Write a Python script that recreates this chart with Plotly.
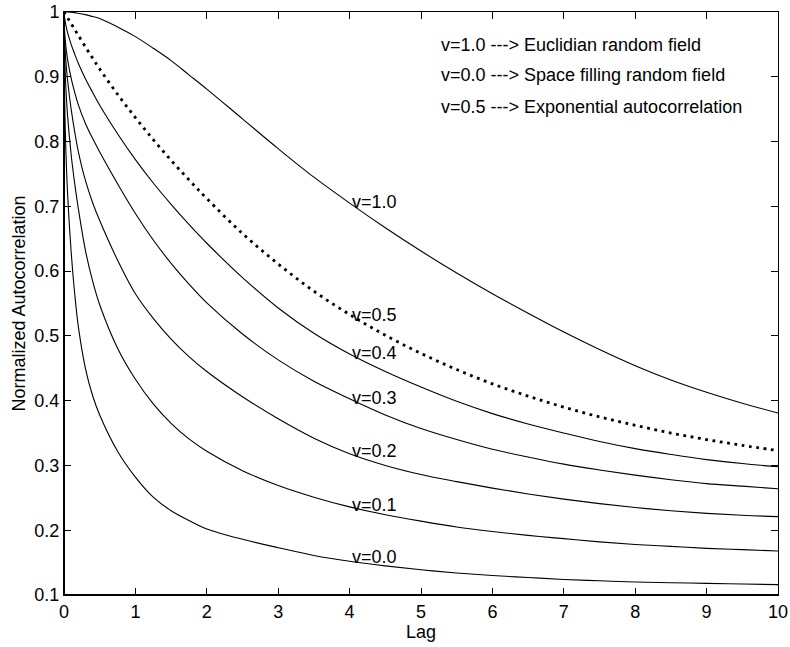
import plotly.graph_objects as go

lag = [0, 0.01, 0.025, 0.05, 0.1, 0.15, 0.2, 0.3, 0.4, 0.5, 0.75, 1, 1.25, 1.5,
       1.75, 2, 2.5, 3, 3.5, 4, 4.5, 5, 5.5, 6, 6.5, 7, 7.5, 8, 8.5, 9, 9.5, 10]

v10 = [1, 1, 1, 1, 0.9995, 0.999, 0.998, 0.996, 0.993, 0.99, 0.977, 0.962,
       0.944, 0.925, 0.903, 0.881, 0.835, 0.789, 0.745, 0.705, 0.667, 0.631,
       0.597, 0.565, 0.535, 0.506, 0.479, 0.454, 0.432, 0.413, 0.396, 0.381]
v05 = [1, 0.998, 0.996, 0.991, 0.982, 0.973, 0.964, 0.946, 0.929, 0.912,
       0.873, 0.837, 0.803, 0.771, 0.741, 0.712, 0.658, 0.611, 0.569, 0.533,
       0.501, 0.473, 0.448, 0.426, 0.407, 0.39, 0.375, 0.362, 0.35, 0.34,
       0.331, 0.323]
v04 = [1, 0.99, 0.98, 0.968, 0.95, 0.935, 0.921, 0.897, 0.876, 0.856, 0.812,
       0.772, 0.736, 0.703, 0.672, 0.643, 0.59, 0.543, 0.504, 0.472, 0.445,
       0.421, 0.399, 0.38, 0.364, 0.35, 0.337, 0.326, 0.317, 0.309, 0.303,
       0.298]
v03 = [1, 0.967, 0.948, 0.927, 0.898, 0.876, 0.857, 0.828, 0.805, 0.784,
       0.735, 0.689, 0.648, 0.612, 0.58, 0.551, 0.503, 0.463, 0.43, 0.403,
       0.378, 0.357, 0.34, 0.325, 0.313, 0.302, 0.293, 0.285, 0.278, 0.272,
       0.268, 0.264]
v02 = [1, 0.955, 0.925, 0.895, 0.85, 0.815, 0.785, 0.74, 0.706, 0.678, 0.617,
       0.565, 0.527, 0.495, 0.468, 0.445, 0.406, 0.372, 0.342, 0.318, 0.3,
       0.286, 0.275, 0.265, 0.256, 0.248, 0.241, 0.235, 0.23, 0.226, 0.223,
       0.221]
v01 = [1, 0.93, 0.885, 0.84, 0.78, 0.735, 0.697, 0.632, 0.585, 0.548, 0.481,
       0.433, 0.395, 0.365, 0.341, 0.322, 0.292, 0.269, 0.251, 0.236, 0.224,
       0.214, 0.205, 0.198, 0.192, 0.187, 0.182, 0.178, 0.175, 0.172, 0.17,
       0.168]
v00 = [1, 0.86, 0.79, 0.72, 0.63, 0.565, 0.515, 0.45, 0.408, 0.378, 0.322,
       0.282, 0.251, 0.23, 0.215, 0.202, 0.186, 0.173, 0.161, 0.152, 0.145,
       0.139, 0.134, 0.13, 0.127, 0.124, 0.122, 0.12, 0.119, 0.118, 0.117,
       0.116]

curve_labels = ["v=1.0", "v=0.5", "v=0.4", "v=0.3", "v=0.2", "v=0.1", "v=0.0"]
note_lines = ["v=1.0 ---> Euclidian random field",
              "v=0.0 ---> Space filling random field",
              "v=0.5 ---> Exponential autocorrelation"]
x_ticks = [0, 1, 2, 3, 4, 5, 6, 7, 8, 9, 10]
y_ticks = [0.1, 0.2, 0.3, 0.4, 0.5, 0.6, 0.7, 0.8, 0.9, 1]
y_ticktext = ["0.1", "0.2", "0.3", "0.4", "0.5", "0.6", "0.7", "0.8", "0.9", "1"]

FONT = "Arial, Liberation Sans, Helvetica, sans-serif"
FS = 18

fig = go.Figure()
for ys in [v10, v04, v03, v02, v01, v00]:
    fig.add_trace(go.Scatter(x=lag, y=ys, mode="lines", line_shape="spline",
                             line=dict(color="black", width=1.1),
                             showlegend=False, hoverinfo="skip"))
fig.add_trace(go.Scatter(x=lag, y=v05, mode="lines", line_shape="spline",
                         line=dict(color="black", width=2.8, dash="2.8px,4.6px"),
                         showlegend=False, hoverinfo="skip"))

label_y = [0.707, 0.532, 0.474, 0.404, 0.323, 0.239, 0.159]
annotations = []
for txt, yy in zip(curve_labels, label_y):
    annotations.append(dict(x=4, y=yy, xref="x", yref="y", text=txt,
                            showarrow=False, xanchor="left", yanchor="middle",
                            font=dict(family=FONT, size=FS, color="black")))
note_y = [0.949, 0.902, 0.854]
for txt, yy in zip(note_lines, note_y):
    annotations.append(dict(x=5.25, y=yy, xref="x", yref="y", text=txt,
                            showarrow=False, xanchor="left", yanchor="middle",
                            font=dict(family=FONT, size=FS, color="black")))

fig.update_layout(
    width=790, height=647,
    margin=dict(l=64, r=12, t=12, b=52, autoexpand=False),
    paper_bgcolor="white", plot_bgcolor="white",
    font=dict(family=FONT, size=FS, color="black"),
    annotations=annotations,
    shapes=[
        dict(type="line", xref="paper", yref="paper", x0=0, x1=1, y0=0, y1=0,
             line=dict(color="black", width=2)),
        dict(type="line", xref="paper", yref="paper", x0=0, x1=0, y0=0, y1=1,
             line=dict(color="black", width=2)),
    ],
    xaxis=dict(range=[0, 10], tickvals=x_ticks, ticks="inside", ticklen=7,
               tickcolor="black", showline=True, linecolor="black",
               linewidth=1, mirror="ticks", showgrid=False, zeroline=False,
               automargin=False,
               title=dict(text="Lag", standoff=2,
                          font=dict(family=FONT, size=FS)),
               tickfont=dict(family=FONT, size=FS)),
    yaxis=dict(range=[0.1, 1], tickvals=y_ticks, ticktext=y_ticktext,
               ticks="inside", ticklen=7, tickcolor="black", showline=True,
               linecolor="black", linewidth=1, mirror="ticks",
               showgrid=False, zeroline=False, automargin=False,
               title=dict(text="Normalized Autocorrelation", standoff=4,
                          font=dict(family=FONT, size=FS)),
               tickfont=dict(family=FONT, size=FS)),
)

fig.write_html("out.html")
